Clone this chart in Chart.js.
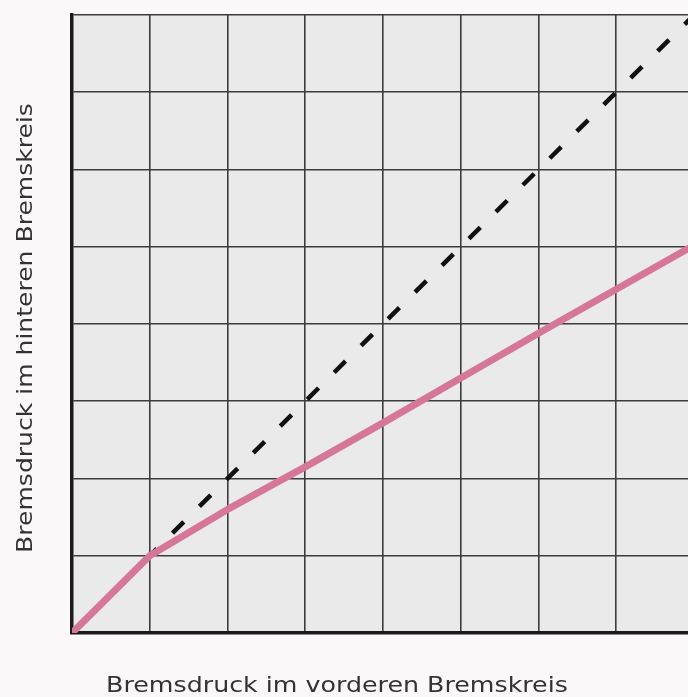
<!DOCTYPE html>
<html>
<head>
<meta charset="utf-8">
<script src="https://cdn.jsdelivr.net/npm/chart.js@4/dist/chart.umd.min.js"></script>
<style>
  html, body { margin: 0; padding: 0; background: #fcf8f9; overflow: hidden; }
  #wrap { width: 700px; height: 697px; }
</style>
</head>
<body>
<div id="wrap"><canvas id="c" width="700" height="697"></canvas></div>
<script>
// Front-circuit brake pressure (x) and resulting rear-circuit pressure (y)
const frontPressure = [0, 1, 2, 3, 4, 5, 6, 7, 8];
const rearRegulated = [0, 1, 1.6, 2.15, 2.72, 3.3, 3.88, 4.45, 5.02];
// Unregulated 1:1 reference line from the switch-over point
const equalFront = [1, 8];
const equalRear = [1, 8];

const xTitle = 'Bremsdruck im vorderen Bremskreis';
const yTitle = 'Bremsdruck im hinteren Bremskreis';

const pairs = (xs, ys) => xs.map((x, i) => ({ x, y: ys[i] }));

const plotBackground = {
  id: 'plotBackground',
  beforeDraw(chart) {
    const { ctx, chartArea: a } = chart;
    ctx.save();
    ctx.fillStyle = '#eaeaea';
    ctx.fillRect(a.left, a.top, a.right - a.left, a.bottom - a.top);
    ctx.restore();
  }
};

// Axis captions in a wide, extended-looking sans
const axisTitles = {
  id: 'axisTitles',
  afterDraw(chart) {
    const { ctx, chartArea: a } = chart;
    const stretch = 1.15;
    ctx.save();
    ctx.fillStyle = '#333333';
    ctx.font = '22px "DejaVu Sans"';
    ctx.textAlign = 'center';
    ctx.textBaseline = 'alphabetic';
    ctx.save();
    ctx.translate(a.left + 265, a.bottom + 59);
    ctx.scale(stretch, 1);
    ctx.fillText(xTitle, 0, 0);
    ctx.restore();
    ctx.translate(a.left - 40, a.top + 313);
    ctx.rotate(-Math.PI / 2);
    ctx.scale(stretch * 0.99, 1);
    ctx.fillText(yTitle, 0, 0);
    ctx.restore();
  }
};

new Chart(document.getElementById('c'), {
  type: 'scatter',
  data: {
    datasets: [
      {
        label: 'ohne Regelung',
        data: pairs(equalFront, equalRear),
        showLine: true,
        borderColor: '#111111',
        borderWidth: 4.5,
        borderDash: [16, 22],
        borderDashOffset: 6,
        borderCapStyle: 'butt',
        pointRadius: 0,
        order: 2
      },
      {
        label: 'geregelt',
        data: pairs(frontPressure, rearRegulated),
        showLine: true,
        borderColor: 'rgb(214, 118, 152)',
        borderWidth: 7,
        borderJoinStyle: 'round',
        borderCapStyle: 'round',
        pointRadius: 0,
        order: 1
      }
    ]
  },
  options: {
    responsive: false,
    devicePixelRatio: 1,
    animation: false,
    layout: { padding: { left: 72, top: 15, right: 6, bottom: 64 } },
    plugins: { legend: { display: false }, tooltip: { enabled: false } },
    scales: {
      x: {
        type: 'linear',
        min: 0,
        max: 8,
        ticks: { display: false, stepSize: 1 },
        grid: { color: '#3c3c3c', lineWidth: 1.6, drawTicks: false },
        border: { color: '#1a1a1a', width: 3.5 }
      },
      y: {
        type: 'linear',
        min: 0,
        max: 8,
        ticks: { display: false, stepSize: 1 },
        grid: { color: '#3c3c3c', lineWidth: 1.6, drawTicks: false },
        border: { color: '#1a1a1a', width: 3.5 }
      }
    }
  },
  plugins: [plotBackground, axisTitles]
});
</script>
</body>
</html>
